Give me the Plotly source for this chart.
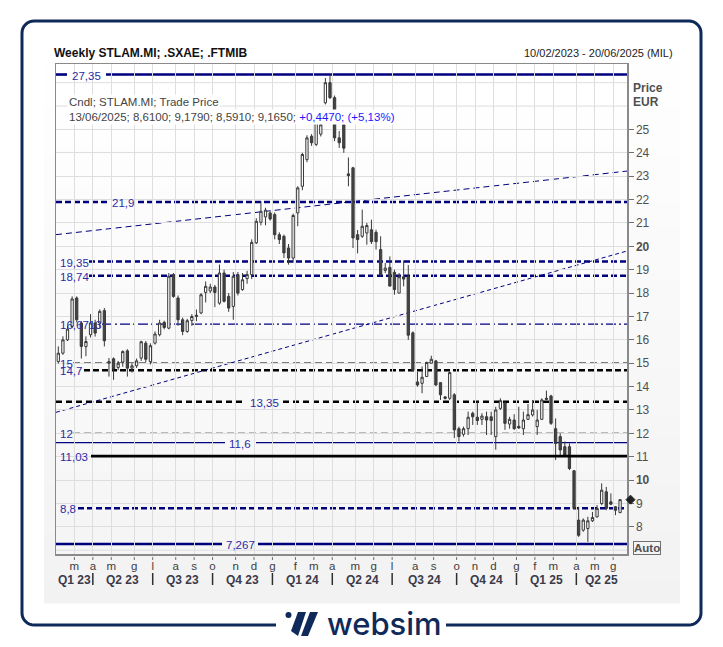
import math
import pandas as pd
import plotly.graph_objects as go

# ---------------- data ----------------
first_week = "2023-02-10"
n_weeks = 123

open_p = [15.07, 15.43, 16.0, 16.57, 17.79, 16.72, 15.71, 16.22, 16.72, 16.72,
          17.25, 15.0, 15.19, 14.82, 15.05, 15.53, 14.79, 14.89, 15.22, 15.86,
          15.07, 15.86, 16.22, 16.75, 16.5, 18.79, 17.79, 16.86, 16.36, 16.83,
          17.0, 17.15, 18.03, 18.09, 18.26, 17.57, 18.86, 17.86, 17.43, 18.79,
          18.15, 18.62, 18.79, 20.15, 21.03, 21.26, 21.43, 21.36, 20.5, 20.43,
          19.93, 19.5, 21.43, 22.57, 23.71, 24.71, 24.36, 24.8, 26.14, 27.0,
          26.36, 24.64, 25.2, 23.1, 23.36, 20.5, 20.43, 20.57, 20.71, 20.6,
          19.86, 18.97, 19.1, 18.89, 18.0, 18.7, 18.7, 16.3, 14.2, 14.14,
          14.43, 15.0, 15.1, 14.17, 13.56, 13.5, 13.65, 12.2, 11.96, 12.2,
          12.86, 12.69, 12.6, 12.71, 12.71, 11.86, 13.07, 13.3, 12.4, 12.57,
          12.3, 12.2, 12.6, 12.79, 12.29, 12.6, 13.5, 13.6, 12.2, 11.86,
          11.43, 11.43, 10.4, 8.29, 7.86, 7.93, 8.26, 8.43, 9.0, 9.5,
          9.07, 8.86, 8.61]
high_p = [15.72, 16.15, 16.6, 17.86, 17.86, 16.8, 16.15, 17.1, 16.86, 17.3,
          17.36, 15.22, 15.25, 15.1, 15.55, 15.6, 15.0, 15.2, 15.96, 15.95,
          15.85, 16.36, 16.86, 16.82, 18.86, 18.86, 17.9, 16.95, 16.9, 17.1,
          17.3, 18.0, 18.5, 18.4, 18.35, 19.22, 19.0, 18.0, 18.9, 18.9,
          18.86, 18.95, 20.3, 21.2, 21.93, 21.65, 21.5, 21.45, 20.6, 20.5,
          20.1, 21.4, 22.57, 24.0, 24.75, 24.8, 25.64, 25.36, 27.2, 27.35,
          26.45, 24.93, 25.3, 23.8, 23.4, 20.7, 21.57, 21.0, 21.14, 20.71,
          20.43, 19.29, 19.57, 19.0, 18.86, 19.4, 19.2, 16.36, 14.64, 14.86,
          15.07, 15.32, 15.14, 14.2, 13.6, 14.64, 13.72, 12.29, 12.29, 12.93,
          12.93, 13.36, 12.86, 12.93, 12.93, 13.14, 13.5, 13.36, 12.71, 12.82,
          13.14, 12.93, 13.26, 13.43, 13.0, 13.5, 13.83, 13.65, 12.64, 12.0,
          11.65, 11.57, 10.43, 8.86, 8.36, 8.43, 8.64, 8.93, 9.86, 9.71,
          9.43, 8.89, 9.179]
low_p = [14.99, 15.36, 15.95, 16.5, 16.75, 15.2, 15.3, 16.1, 16.14, 16.5,
         15.72, 14.43, 14.29, 14.7, 14.85, 14.43, 14.6, 14.8, 15.1, 15.05,
         14.95, 15.8, 16.15, 16.45, 16.45, 17.8, 16.6, 16.2, 16.3, 16.6,
         16.8, 17.1, 17.6, 18.0, 17.4, 17.5, 17.6, 17.2, 16.86, 17.9,
         18.1, 18.4, 18.6, 20.1, 20.9, 20.9, 21.1, 20.3, 20.1, 19.5,
         19.22, 19.3, 20.86, 22.4, 23.6, 24.3, 24.29, 24.7, 26.07, 26.3,
         24.5, 24.21, 24.0, 22.57, 19.93, 19.7, 20.36, 20.07, 20.1, 19.86,
         18.72, 18.86, 18.29, 17.93, 18.0, 18.29, 16.0, 14.65, 14.0, 13.72,
         14.43, 15.0, 14.03, 13.43, 13.45, 13.43, 11.8, 11.65, 11.86, 11.93,
         12.36, 12.36, 12.36, 11.93, 11.93, 11.3, 13.0, 12.15, 12.2, 12.15,
         12.2, 11.93, 12.57, 12.72, 11.93, 12.57, 13.43, 12.36, 10.86, 11.0,
         11.0, 10.43, 8.79, 7.57, 7.79, 7.36, 8.21, 8.4, 8.93, 8.71,
         8.93, 8.5, 8.591]
close_p = [15.43, 16.0, 16.46, 17.75, 16.86, 15.72, 15.93, 16.72, 16.29, 17.22,
           15.96, 15.07, 14.75, 15.0, 15.5, 14.79, 14.89, 15.1, 15.92, 15.17,
           15.75, 16.25, 16.72, 16.53, 18.72, 17.86, 16.86, 16.36, 16.82, 17.0,
           17.05, 17.93, 18.29, 18.26, 18.03, 18.86, 17.65, 17.36, 18.72, 18.0,
           18.57, 18.79, 20.17, 21.07, 21.5, 21.55, 21.17, 20.5, 20.29, 19.72,
           19.5, 21.32, 22.5, 23.93, 24.64, 24.43, 25.57, 25.2, 27.0, 26.36,
           24.64, 24.43, 24.2, 23.03, 20.36, 20.29, 20.86, 20.89, 20.2, 20.2,
           18.79, 19.07, 18.3, 18.15, 18.7, 18.6, 16.2, 14.7, 14.07, 14.4,
           15.03, 15.17, 14.07, 13.65, 13.5, 14.6, 12.15, 11.86, 12.2, 12.69,
           12.71, 12.55, 12.74, 12.57, 12.55, 13.0, 13.4, 12.43, 12.6, 12.2,
           12.23, 12.57, 12.8, 13.0, 12.57, 13.43, 13.46, 12.43, 11.57, 11.29,
           11.07, 10.5, 8.79, 7.64, 8.29, 8.26, 8.4, 8.79, 9.57, 8.79,
           8.97, 8.71, 9.165]

level_values = [27.35, 21.9, 19.35, 18.74, 16.6713, 15.0, 14.7, 13.35, 12.0, 11.6, 11.03, 8.8, 7.267]
level_labels = ["27,35", "21,9", "19,35", "18,74", "16,6713", "15", "14,7", "13,35", "12", "11,6", "11,03", "8,8", "7,267"]
trend_upper = [20.5, 23.22]
trend_lower = [12.9, 19.8]
price_ticks = list(range(8, 26))
extra_grid = [7, 26, 27]
month_initials = {1: "g", 2: "f", 3: "m", 4: "a", 5: "m", 6: "g", 7: "l", 8: "a", 9: "s", 10: "o", 11: "n", 12: "d"}
last_price = 9.165

# ---------------- geometry ----------------
W, H = 723, 647
PL, PR, PT, PB = 56, 627, 64, 554
X_RANGE = [pd.Timestamp("2023-02-06 12:00"), pd.Timestamp("2025-06-23 12:00")]
Y_RANGE = [6.84, 27.8]
NAVY = "#00007f"
LBL = "#2b2ba6"
FONT = "Liberation Sans"
GRID = "#dedede"
PX_PER_UNIT = (PB - PT) / (Y_RANGE[1] - Y_RANGE[0])


def fx(px):
    return (px - PL) / (PR - PL)


def fy(py):
    return (PB - py) / (PB - PT)


dates = pd.date_range(first_week, periods=n_weeks, freq="7D")

# month ticks: boundary before first weekly bar whose Monday falls in the month
tick_vals, tick_text, quarter_ticks = [], [], []
prev_month = (dates[0] - pd.Timedelta(days=4)).month
for d in dates:
    monday = d - pd.Timedelta(days=4)
    if monday.month != prev_month:
        tv = d - pd.Timedelta(hours=84)
        tick_vals.append(tv)
        tick_text.append(month_initials[monday.month])
        if monday.month in (1, 4, 7, 10):
            quarter_ticks.append((tv, monday))
        prev_month = monday.month


def date_px(t):
    span = (X_RANGE[1] - X_RANGE[0]).total_seconds()
    return PL + (t - X_RANGE[0]).total_seconds() / span * (PR - PL)


fig = go.Figure()
fig.add_trace(go.Candlestick(
    x=dates, open=open_p, high=high_p, low=low_p, close=close_p,
    increasing=dict(line=dict(color="#383838", width=1), fillcolor="#ffffff"),
    decreasing=dict(line=dict(color="#383838", width=1), fillcolor="#454545"),
    whiskerwidth=0, showlegend=False, hoverinfo="skip",
))

shapes = []
annotations = []


def gradient(x0, x1, y0, y1, c_top, c_bot, n=24):
    for k in range(n):
        a = y0 + (y1 - y0) * k / n
        b = y0 + (y1 - y0) * (k + 1) / n + 0.5
        t = k / (n - 1)
        col = tuple(round(c_top[j] + (c_bot[j] - c_top[j]) * t) for j in range(3))
        shapes.append(dict(type="rect", xref="paper", yref="paper", layer="below",
                           x0=fx(x0), x1=fx(x1), y0=fy(a), y1=fy(b),
                           line=dict(width=0), fillcolor="rgb(%d,%d,%d)" % col))


gradient(44, 680, 37, 603, (255, 255, 255), (242, 242, 242))
gradient(PL, PR, PT, PB, (255, 255, 255), (245, 245, 245))

for v in extra_grid:
    shapes.append(dict(type="line", xref="paper", yref="y", layer="between", x0=0, x1=1, y0=v, y1=v,
                       line=dict(color=GRID, width=1)))

# level lines with gaps for the labels
level_styles = [
    dict(color=NAVY, width=2.6, dash="solid", gap=(67, 106), lx=86.5, anchor="center"),
    dict(color=NAVY, width=2.6, dash="6px,3px", gap=(108, 138), lx=123, anchor="center"),
    dict(color=NAVY, width=2.6, dash="6px,3px", gap=(56, 89), lx=58, anchor="left"),
    dict(color=NAVY, width=2.6, dash="6px,3px", gap=(56, 89), lx=58, anchor="left"),
    dict(color=NAVY, width=1.2, dash="10px,3px,2px,3px", gap=(56, 102), lx=58, anchor="left"),
    dict(color="#000000", width=1.3, dash="7px,4px", gap=(56, 73), lx=58, anchor="left"),
    dict(color="#000000", width=2.6, dash="6px,3px", gap=(56, 84), lx=58, anchor="left"),
    dict(color="#000000", width=2.6, dash="6px,4px", gap=(246, 283), lx=264, anchor="center"),
    dict(color="#000000", width=1.3, dash="7px,4px", gap=(56, 73), lx=58, anchor="left"),
    dict(color=NAVY, width=1.3, dash="solid", gap=(225, 256), lx=240, anchor="center"),
    dict(color="#000000", width=2.8, dash="band", gap=(56, 91), lx=58, anchor="left"),
    dict(color=NAVY, width=2.6, dash="6px,3px", gap=(56, 78), lx=58, anchor="left"),
    dict(color=NAVY, width=2.6, dash="solid", gap=(222, 258), lx=240, anchor="center"),
]
for val, lab, st in zip(level_values, level_labels, level_styles):
    g0, g1 = st["gap"]
    segs = []
    if g0 > PL + 1:
        segs.append((PL, g0))
    segs.append((g1, PR))
    for a, b in segs:
        if st["dash"] == "band":
            half = st["width"] / 2 / PX_PER_UNIT
            shapes.append(dict(type="rect", xref="paper", yref="y", layer="above",
                               x0=fx(a), x1=fx(b), y0=val - half, y1=val + half,
                               line=dict(width=0), fillcolor=st["color"]))
        else:
            shapes.append(dict(type="line", xref="paper", yref="y", layer="between",
                               x0=fx(a), x1=fx(b), y0=val, y1=val,
                               line=dict(color=st["color"], width=st["width"], dash=st["dash"])))
    annotations.append(dict(xref="paper", yref="y", x=fx(st["lx"]), y=val, text=lab,
                            showarrow=False, xanchor=st["anchor"], yanchor="middle", yshift=-1,
                            font=dict(family=FONT, size=11.5, color=LBL)))

# trend lines
shapes.append(dict(type="line", xref="paper", yref="y", layer="between", x0=0, x1=1,
                   y0=trend_upper[0], y1=trend_upper[1],
                   line=dict(color=NAVY, width=1, dash="6px,4px")))
shapes.append(dict(type="line", xref="paper", yref="y", layer="between", x0=0, x1=1,
                   y0=trend_lower[0], y1=trend_lower[1],
                   line=dict(color=NAVY, width=1, dash="4px,3px")))

# month tick marks (detached below the frame)
for tv in tick_vals:
    p = date_px(tv)
    shapes.append(dict(type="line", xref="paper", yref="paper", x0=fx(p), x1=fx(p),
                       y0=fy(557), y1=fy(560), line=dict(color="#707070", width=1)))

# quarter separators and labels
q_edges = [PL] + [date_px(t) for t, _ in quarter_ticks] + [PR]
m0 = dates[0] - pd.Timedelta(days=4)
q_names = ["Q%d %02d" % ((m0.month - 1) // 3 + 1, m0.year % 100)]
for _, mon in quarter_ticks:
    q_names.append("Q%d %02d" % ((mon.month - 1) // 3 + 1, mon.year % 100))
for t, _ in quarter_ticks:
    p = date_px(t)
    shapes.append(dict(type="line", xref="paper", yref="paper", x0=fx(p), x1=fx(p),
                       y0=fy(573), y1=fy(585), line=dict(color="#303030", width=1.5)))
for k, name in enumerate(q_names):
    c = (q_edges[k] + q_edges[k + 1]) / 2
    annotations.append(dict(xref="paper", yref="paper", x=fx(c), y=fy(580), text="<b>%s</b>" % name,
                            showarrow=False, xanchor="center", yanchor="middle",
                            font=dict(family=FONT, size=12, color="#3a3a4a")))

# last price diamond
dx, dyp = 4.5, 4.5
cxp = 630.5
cyp = PB - (last_price - Y_RANGE[0]) * PX_PER_UNIT
pts = [(cxp, cyp - dyp), (cxp + dx, cyp), (cxp, cyp + dyp), (cxp - dx, cyp)]
path = "M " + " L ".join("%f,%f" % (fx(a), fy(b)) for a, b in pts) + " Z"
shapes.append(dict(type="path", xref="paper", yref="paper", path=path,
                   fillcolor="#222222", line=dict(color="#222222", width=1)))


def rrect(x0, y0, x1, y1, r, steps=8):
    pts = []
    corners = [(x1 - r, y0 + r, -90, 0), (x1 - r, y1 - r, 0, 90), (x0 + r, y1 - r, 90, 180), (x0 + r, y0 + r, 180, 270)]
    for cx, cy, a0, a1 in corners:
        for s in range(steps + 1):
            a = math.radians(a0 + (a1 - a0) * s / steps)
            pts.append((cx + r * math.cos(a), cy + r * math.sin(a)))
    return "M " + " L ".join("%f,%f" % (fx(a), fy(b)) for a, b in pts) + " Z"


shapes.append(dict(type="path", xref="paper", yref="paper", path=rrect(22, 21, 701, 625, 12),
                   line=dict(color="#0f2a5a", width=3), fillcolor="rgba(0,0,0,0)"))
# logo gap + icon
shapes.append(dict(type="rect", xref="paper", yref="paper", x0=fx(276), x1=fx(446), y0=fy(612), y1=fy(638),
                   line=dict(width=0), fillcolor="#ffffff"))
shapes.append(dict(type="circle", xref="paper", yref="paper", x0=fx(285.5), x1=fx(291.5), y0=fy(612), y1=fy(618),
                   line=dict(width=0), fillcolor="#0f2a5a"))
for (a, b, c, d) in [((298, 612), (306, 612), (298, 636), (291, 631)), ((310, 612), (318, 612), (308, 636), (301, 636))]:
    pth = "M %f,%f L %f,%f L %f,%f L %f,%f Z" % (fx(a[0]), fy(a[1]), fx(b[0]), fy(b[1]), fx(c[0]), fy(c[1]), fx(d[0]), fy(d[1]))
    shapes.append(dict(type="path", xref="paper", yref="paper", path=pth, line=dict(width=0), fillcolor="#0f2a5a"))

annotations.append(dict(xref="paper", yref="paper", x=fx(325), y=fy(623), text="websim", showarrow=False,
                        xanchor="left", yanchor="middle",
                        font=dict(family="Inter", size=31, color="#0f2a5a", weight=500)))

# header texts
annotations.append(dict(xref="paper", yref="paper", x=fx(52), y=fy(53), text="<b>Weekly STLAM.MI; .SXAE; .FTMIB</b>",
                        showarrow=False, xanchor="left", yanchor="middle",
                        font=dict(family=FONT, size=12, color="#111111")))
annotations.append(dict(xref="paper", yref="paper", x=fx(675), y=fy(53), text="10/02/2023 - 20/06/2025 (MIL)",
                        showarrow=False, xanchor="right", yanchor="middle",
                        font=dict(family=FONT, size=11, color="#222222")))
annotations.append(dict(xref="paper", yref="paper", x=fx(67), y=fy(102), text="Cndl; STLAM.MI; Trade Price",
                        showarrow=False, xanchor="left", yanchor="middle", bgcolor="#ffffff",
                        font=dict(family=FONT, size=11.5, color="#444444")))
annotations.append(dict(xref="paper", yref="paper", x=fx(67), y=fy(117),
                        text="13/06/2025; 8,6100; 9,1790; 8,5910; 9,1650; <span style='color:#1a1aff'>+0,4470; (+5,13%)</span>",
                        showarrow=False, xanchor="left", yanchor="middle", bgcolor="#ffffff",
                        font=dict(family=FONT, size=11.5, color="#444444")))
annotations.append(dict(xref="paper", yref="paper", x=fx(631), y=fy(88), text="<b>Price</b>",
                        showarrow=False, xanchor="left", yanchor="middle",
                        font=dict(family=FONT, size=12, color="#505050")))
annotations.append(dict(xref="paper", yref="paper", x=fx(631), y=fy(102), text="<b>EUR</b>",
                        showarrow=False, xanchor="left", yanchor="middle",
                        font=dict(family=FONT, size=12, color="#505050")))
annotations.append(dict(xref="paper", yref="paper", x=fx(633), y=fy(548), text="<b>Auto</b>",
                        showarrow=False, xanchor="left", yanchor="middle", bordercolor="#707070",
                        borderwidth=1, borderpad=0, bgcolor="#f4f4f4",
                        font=dict(family=FONT, size=11.5, color="#505050")))

ytext = ["<b>%d</b>" % v if v in (10, 20) else str(v) for v in price_ticks]

fig.update_layout(
    width=W, height=H,
    margin=dict(l=PL, r=W - PR, t=PT, b=H - PB, pad=0),
    paper_bgcolor="#ffffff", plot_bgcolor="rgba(0,0,0,0)",
    shapes=shapes, annotations=annotations, showlegend=False,
    font=dict(family=FONT, size=12, color="#555555"),
    xaxis=dict(type="date", range=X_RANGE, rangeslider=dict(visible=False),
               tickmode="array", tickvals=tick_vals, ticktext=tick_text,
               showgrid=True, gridcolor=GRID, gridwidth=1,
               ticks="", showline=True, linecolor="#8a8a8a", linewidth=1.5, mirror=True,
               tickfont=dict(family=FONT, size=11.5, color="#404040"), ticklabelstandoff=1,
               zeroline=False, fixedrange=True),
    yaxis=dict(side="right", range=Y_RANGE, tickmode="array", tickvals=price_ticks, ticktext=ytext,
               showgrid=True, gridcolor=GRID, gridwidth=1,
               ticks="outside", ticklen=5, tickcolor="#707070",
               showline=True, linecolor="#8a8a8a", linewidth=1.5, mirror=True,
               tickfont=dict(family=FONT, size=12, color="#505050"),
               zeroline=False, fixedrange=True),
)

fig.write_html("out.html", config={"displayModeBar": False, "staticPlot": True},
               post_script="document.body.style.margin='0px';document.body.style.overflow='hidden';")
